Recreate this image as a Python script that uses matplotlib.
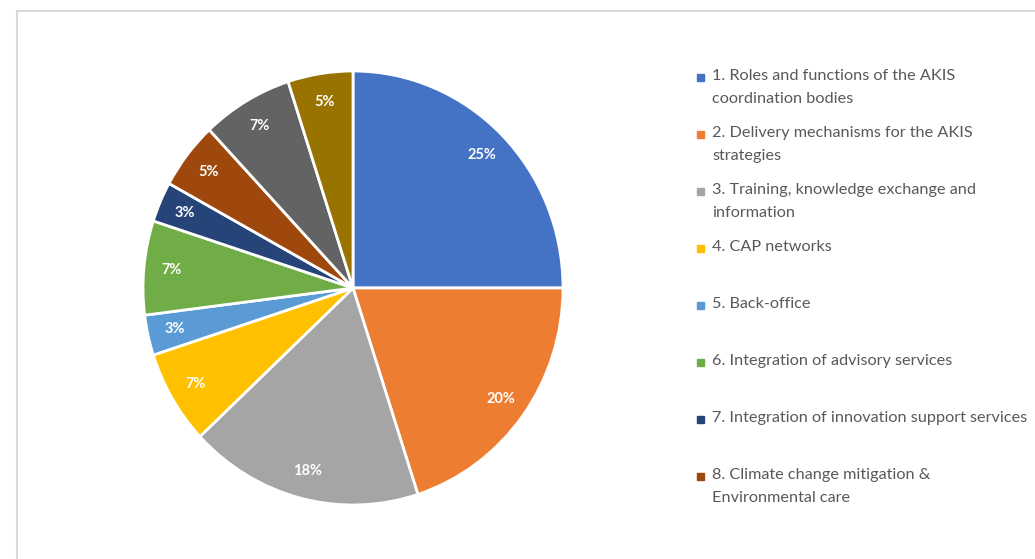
import matplotlib.pyplot as plt
from matplotlib.lines import Line2D
from matplotlib.patches import Rectangle

categories = [
    "1. Roles and functions of the AKIS\ncoordination bodies",
    "2. Delivery mechanisms for the AKIS\nstrategies",
    "3. Training, knowledge exchange and\ninformation",
    "4. CAP networks",
    "5. Back-office",
    "6. Integration of advisory services",
    "7. Integration of innovation support services",
    "8. Climate change mitigation &\nEnvironmental care",
    "9.",
    "10.",
]
shares = [25, 20, 18, 7, 3, 7, 3, 5, 7, 5]
colors = ["#4472C4", "#ED7D31", "#A5A5A5", "#FFC000", "#5B9BD5",
          "#70AD47", "#264478", "#9E480E", "#636363", "#997300"]
n_legend = 8  # legend in the source is cut after item 8

fig = plt.figure(figsize=(10.35, 5.59), dpi=100)

# light frame of the chart area (cropped on right and bottom)
fig.add_artist(Line2D([17 / 1035, 1.0], [1 - 11 / 559] * 2, color="#d9d9d9", lw=1.5))
fig.add_artist(Line2D([17 / 1035] * 2, [0.0, 1 - 11 / 559], color="#d9d9d9", lw=1.5))

# pie centre ~ (354, 287), slightly taller than wide in the source
cx, cy, rx, ry = 353, 288, 210, 217
ax = fig.add_axes([(cx - rx) / 1035, 1 - (cy + ry) / 559, 2 * rx / 1035, 2 * ry / 559])
wedges, texts, autotexts = ax.pie(
    shares, colors=colors, startangle=90, counterclock=False,
    autopct=lambda p: f"{p:.0f}%", pctdistance=0.87,
    wedgeprops=dict(edgecolor="white", linewidth=2),
    textprops=dict(color="white", fontweight="bold", fontsize=10.5, family="Lato"),
)
ax.set_aspect("auto")
ax.set_xlim(-1, 1)
ax.set_ylim(-1, 1)

# legend, one entry every ~57 px
y0 = 78
for i in range(n_legend):
    y = y0 + i * 57
    fig.add_artist(Rectangle((697 / 1035, 1 - (y + 3) / 559), 7 / 1035, 7 / 559,
                             color=colors[i], transform=fig.transFigure))
    fig.text(712 / 1035, 1 - (y - 9) / 559, categories[i], ha="left", va="top",
             fontsize=11.7, color="#595959", family="Lato", linespacing=1.8)

fig.savefig("out.png", dpi=100)
